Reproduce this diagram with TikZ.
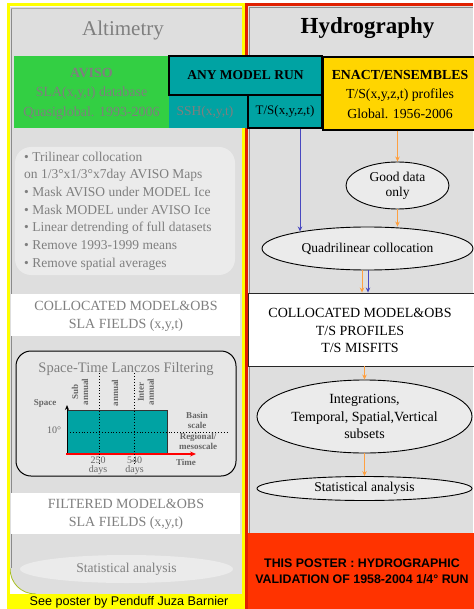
\documentclass[tikz,border=0pt]{standalone}
\usepackage{fontspec}
\setmainfont{Liberation Serif}
\setsansfont{Liberation Sans}
\usetikzlibrary{shapes.geometric,arrows.meta,calc}
\definecolor{panelgray}{HTML}{DEDEDE}
\definecolor{lightbox}{HTML}{EBEBEB}
\definecolor{txtgray}{HTML}{7F7F7F}
\definecolor{darkgraytxt}{HTML}{666666}
\definecolor{avisogreen}{HTML}{33CF43}
\definecolor{tealc}{HTML}{00A3A3}
\definecolor{enactyellow}{HTML}{FFD500}
\definecolor{posterred}{HTML}{FF3300}
\definecolor{orangeln}{HTML}{FFA040}
\definecolor{blueln}{HTML}{4848C0}
\definecolor{frameyellow}{HTML}{FFFF00}
\definecolor{framered}{HTML}{E02000}
\definecolor{shadowgray}{HTML}{8A8A8A}
\definecolor{olivec}{HTML}{A8C020}
\begin{document}
\begin{tikzpicture}[x=1pt,y=-1pt,
  box/.style={inner sep=0pt, align=center},
  ell/.style={ellipse, draw=black, line width=0.9pt, fill=lightbox, inner sep=0pt, align=center},
  oarrow/.style={orangeln, line width=0.9pt, -{Stealth[length=5pt,width=4.5pt]}},
  barrow/.style={blueln, line width=0.9pt, -{Stealth[length=5pt,width=4.5pt]}},
  smallbold/.style={font=\fontsize{9}{10}\selectfont\bfseries, text=darkgraytxt, inner sep=0pt, align=center},
  smallreg/.style={font=\fontsize{10}{9}\selectfont, text=darkgraytxt, inner sep=0pt, align=center}
]
\useasboundingbox (0,0) rectangle (473,609);
\fill[white] (0,0) rectangle (473,609);

% ---------- left panel ----------
\fill[white] (9,5) rectangle (244,609);
\fill[panelgray] (10,7) -- (242,7) -- (242,594) -- (36,594) .. controls (21,594) and (10,583) .. (10,568) -- cycle;
\draw[olivec, line width=0.8pt] (36,594) .. controls (21,594) and (10,583) .. (10,568);
\draw[shadowgray, line width=1.6pt] (11.5,568) -- (11.5,8);
\draw[shadowgray!70, line width=0.8pt] (11,8) -- (242,8);
\fill[frameyellow] (8,594) rectangle (244,609);
\draw[frameyellow, line width=2.6pt] (8.3,609) -- (8.3,4.6) -- (243.3,4.6) -- (243.3,609);

% ---------- right panel ----------
\fill[panelgray] (247,5) rectangle (473,533);
\draw[shadowgray, line width=1.2pt] (249.2,533) -- (249.2,7.2) -- (473,7.2);
\draw[framered, line width=2.6pt] (246.5,609) -- (246.5,4.6) -- (473,4.6);
\node[fill=posterred, minimum width=226pt, minimum height=76pt, inner sep=0pt] (redbox) at (361,571) {};
\node[box, font=\sffamily\bfseries\fontsize{12.4}{16.3}\selectfont] (postertxt) at (362,571)
  {THIS POSTER : HYDROGRAPHIC\\VALIDATION OF 1958-2004 1/4° RUN};

% ---------- titles ----------
\node[box, text=txtgray, font=\fontsize{21}{24}\selectfont] (alttitle) at (123,30) {Altimetry};
\node[box, font=\fontsize{23}{26}\selectfont\bfseries] (hydtitle) at (367.5,28) {Hydrography};

% ---------- top boxes ----------
\node[fill=avisogreen, minimum width=155pt, minimum height=72pt, inner sep=0pt] (aviso) at (91.5,92) {};
\node[box, text=txtgray, font=\fontsize{14}{19.5}\selectfont] (avisotxt) at (91.5,93.5)
  {\textbf{AVISO}\\SLA(x,y,t) database\\Quasiglobal. 1993-2006};
\node[fill=tealc, minimum width=79pt, minimum height=33pt, inner sep=0pt] (ssh) at (208.5,111.5) {};
\node[box, text=txtgray, font=\fontsize{13.5}{16}\selectfont] (sshtxt) at (205,112) {SSH(x,y,t)};
\node[fill=tealc, draw=black, line width=1.5pt, minimum width=74pt, minimum height=33pt, inner sep=0pt,
  font=\fontsize{13}{16}\selectfont] (ts) at (285,111.5) {T/S(x,y,z,t)};
\node[fill=tealc, draw=black, line width=2pt, minimum width=153pt, minimum height=39pt, inner sep=0pt,
  font=\fontsize{13.5}{16}\selectfont\bfseries] (model) at (245.5,75.5) {ANY MODEL RUN};
\node[fill=enactyellow, draw=black, line width=1.5pt, minimum width=152pt, minimum height=73pt, inner sep=0pt] (enact) at (399,93.5) {};
\node[box, font=\fontsize{13.8}{19.5}\selectfont] (enacttxt) at (400,94.5)
  {\textbf{ENACT/ENSEMBLES}\\T/S(x,y,z,t) profiles\\Global. 1956-2006};

% ---------- left flow ----------
\node[fill=lightbox, rounded corners=16pt, minimum width=220pt, minimum height=128pt, inner sep=0pt] (bulletbox) at (125,211) {};
\node[inner sep=0pt, anchor=west, align=left, text=txtgray, font=\fontsize{13.5}{17.7}\selectfont] (bullets) at (24,211)
  {• Trilinear collocation\\on 1/3°x1/3°x7day AVISO Maps\\• Mask AVISO under MODEL Ice\\• Mask MODEL under AVISO Ice\\• Linear detrending of full datasets\\• Remove 1993-1999 means\\• Remove spatial averages};
\node[fill=white, minimum width=229pt, minimum height=42pt, inner sep=0pt] (collsla) at (125.5,315) {};
\node[box, text=txtgray, font=\fontsize{14}{18}\selectfont] (collslatxt) at (126,316)
  {COLLOCATED MODEL\&OBS\\SLA FIELDS (x,y,t)};

% Lanczos box
\node[fill=lightbox!70!panelgray, draw=black, line width=1pt, rounded corners=15pt, minimum width=220pt, minimum height=125pt, inner sep=0pt] (lanczos) at (126,413.5) {};
\node[box, text=txtgray, font=\fontsize{14.5}{16}\selectfont] (lanczostitle) at (126,369) {Space-Time Lanczos Filtering};
\filldraw[fill=tealc, draw=black!80, line width=0.8pt] (67,410) rectangle (167,454);
\draw[line width=1pt, -{Stealth[length=5pt,width=4pt]}] (67,455) -- (67,405);
\draw[red, line width=1.2pt, -{Stealth[length=6pt,width=5pt]}] (66,454) -- (196,454);
\draw[dotted, line width=0.9pt] (99,373) -- (99,463);
\draw[dotted, line width=0.9pt] (134,373) -- (134,463);
\draw[dotted, line width=0.9pt] (67,432) -- (228,432);
\node[smallbold] (spacelbl) at (45,403) {Space};
\node[smallreg] (tendeg) at (54,430) {10°};
\node[smallbold, rotate=90] (subann) at (80,392) {Sub\\annual};
\node[smallbold, rotate=90] (annlbl) at (115,393) {annual};
\node[smallbold, rotate=90] (interann) at (146,392) {Inter\\annual};
\node[smallbold] (basinlbl) at (197,420) {Basin\\scale};
\node[smallbold] (regionlbl) at (198,441.5) {Regional/\\mesoscale};
\node[smallbold] (timelbl) at (186,462) {Time};
\node[smallreg, font=\fontsize{10}{8.5}\selectfont] (d250) at (98,465.5) {250\\days};
\node[smallreg, font=\fontsize{10}{8.5}\selectfont] (d540) at (134.5,465.5) {540\\days};

\node[fill=white, minimum width=229pt, minimum height=41pt, inner sep=0pt] (filtsla) at (125.5,513.5) {};
\node[box, text=txtgray, font=\fontsize{14}{18}\selectfont] (filtslatxt) at (126,514)
  {FILTERED MODEL\&OBS\\SLA FIELDS (x,y,t)};
\node[ellipse, fill=lightbox, minimum width=213pt, minimum height=28pt, inner sep=0pt,
  text=txtgray, font=\fontsize{13.5}{16}\selectfont] (statleft) at (126.5,569) {Statistical analysis};
\node[box, font=\sffamily\fontsize{12.6}{14}\selectfont] (footer) at (129,602.5) {See poster by Penduff Juza Barnier};

% ---------- right flow ----------
\node[ell, minimum width=103pt, minimum height=47pt, font=\fontsize{13.5}{15}\selectfont] (good) at (397.5,185.5) {Good data\\only};
\node[ell, minimum width=211pt, minimum height=43pt, font=\fontsize{13.5}{16}\selectfont] (quad) at (367.5,248.5) {Quadrilinear collocation};
\node[fill=white, draw=black!85, line width=0.9pt, minimum width=228pt, minimum height=73pt, inner sep=0pt] (collts) at (362,329.5) {};
\node[box, font=\fontsize{14}{17.5}\selectfont] (colltstxt) at (360,330.5)
  {COLLOCATED MODEL\&OBS\\T/S PROFILES\\T/S MISFITS};
\node[ell, minimum width=215pt, minimum height=73pt, font=\fontsize{14}{17.2}\selectfont] (integr) at (364.5,416.5)
  {Integrations,\\Temporal, Spatial,Vertical\\subsets};
\node[ell, minimum width=215pt, minimum height=24pt, font=\fontsize{13.5}{16}\selectfont] (statright) at (364.5,488.5) {Statistical analysis};

\coordinate (bluequad) at (300,231.5);
\draw[barrow] (ts.south -| bluequad) -- (bluequad);
\draw[oarrow] (enact.south -| good.north) -- (good.north);
\draw[oarrow] (good.south) -- (good.south |- quad.north);
\draw[oarrow] ([xshift=-5.5pt]quad.south) -- ([xshift=-5.5pt]quad.south |- collts.north);
\draw[barrow] ([xshift=0.5pt]quad.south) -- ([xshift=0.5pt]quad.south |- collts.north);
\draw[oarrow] (collts.south -| integr.north) -- (integr.north);
\draw[oarrow] (integr.south) -- (statright.north);
\end{tikzpicture}
\end{document}
